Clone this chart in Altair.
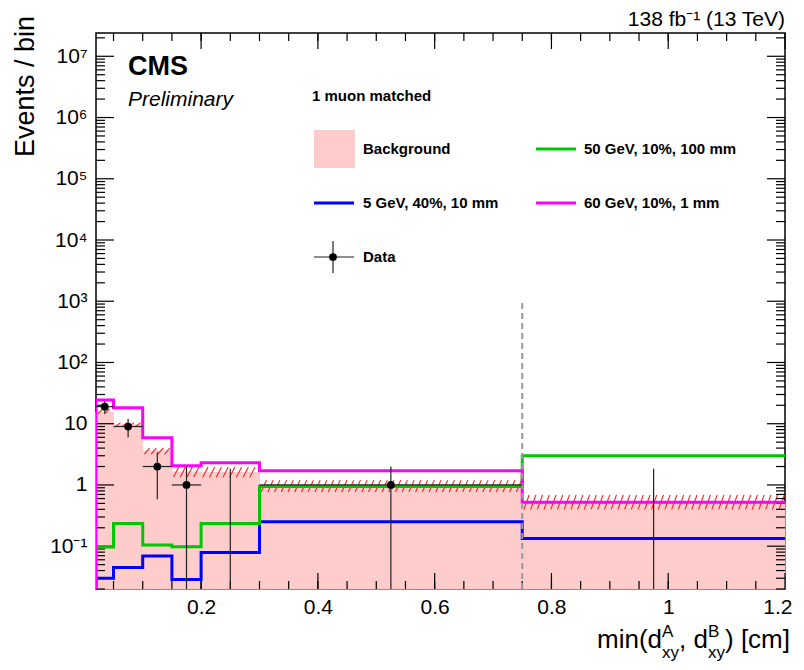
import altair as alt
import pandas as pd

# ---------------- data ----------------
edges = [0.02, 0.05, 0.1, 0.15, 0.2, 0.3, 0.75, 1.2]
bkg = [15.5, 9.6, 3.6, 1.63, 1.6, 0.97, 0.53]
bkg_lo = [14.5, 8.9, 3.2, 1.35, 1.33, 0.77, 0.40]
bkg_hi = [17.5, 10.4, 4.0, 1.97, 1.97, 1.2, 0.69]
sig_5gev = [0.030, 0.045, 0.069, 0.0285, 0.079, 0.25, 0.134]
sig_50gev = [0.097, 0.235, 0.105, 0.098, 0.235, 0.94, 3.0]
sig_60gev = [24.5, 18.3, 5.9, 2.05, 2.3, 1.7, 0.52]
data_counts = [19, 9, 2, 1, 0, 1, 0]
zero_upper = 1.84

x_min, x_max = 0.02, 1.2
y_min, y_max = 0.02, 2.4e7
cut_x, cut_top = 0.75, 1000

x_major = [0.2, 0.4, 0.6, 0.8, 1.0, 1.2]
x_minor = [round(0.05 * i, 2) for i in range(1, 24)]
y_major = [10.0 ** k for k in range(-1, 8)]
y_minor = [m * 10.0 ** k for k in range(-2, 8) for m in range(2, 10)
           if y_min <= m * 10.0 ** k <= y_max]

W, H = 689, 556
FONT = "Liberation Sans"

xs = alt.Scale(domain=[x_min, x_max], nice=False, zero=False)
ys = alt.Scale(type="log", domain=[y_min, y_max], nice=False)

# ---------------- tables ----------------
bins = pd.DataFrame({
    "lo": edges[:-1], "hi": edges[1:], "bkg": bkg,
    "blo": bkg_lo, "bhi": bkg_hi, "y0": [y_min] * 7,
})

hatch_rows = []
step, dx = 0.0115, 0.009
for lo, hi, blo, bhi in zip(edges[:-1], edges[1:], bkg_lo, bkg_hi):
    n = int((hi - lo) / step)
    for j in range(n):
        x0 = lo + (j + 0.25) * step
        x1 = min(x0 + dx, hi)
        hatch_rows.append(dict(x=x0, x2=x1, ylo=blo, yhi=bhi))
hatch_df = pd.DataFrame(hatch_rows)


def step_df(vals):
    xv = [edges[0]] + edges[:-1] + [edges[-1]]
    yv = [y_min] + list(vals) + [vals[-1]]
    return pd.DataFrame({"i": list(range(len(xv))), "x": xv, "y": yv})


centers = [(a + b) / 2 for a, b in zip(edges[:-1], edges[1:])]
err_df = pd.DataFrame({
    "x": centers,
    "lo": [max(n - n ** 0.5, y_min) if n > 0 else y_min for n in data_counts],
    "hi": [n + n ** 0.5 if n > 0 else zero_upper for n in data_counts],
})
pts = pd.DataFrame({"x": centers, "lo": edges[:-1], "hi": edges[1:], "n": data_counts})
pts = pts[pts["n"] > 0]

one = pd.DataFrame({"x": [0.5], "y": [1.0]})
cut_df = pd.DataFrame({"x": [cut_x], "y": [y_min], "y2": [cut_top]})

# ---------------- layers ----------------
fill = alt.Chart(bins).mark_rect(color="#ffcccc", stroke="#ffcccc", strokeWidth=1).encode(
    x=alt.X("lo:Q", scale=xs, axis=None), x2="hi:Q",
    y=alt.Y("bkg:Q", scale=ys, axis=None), y2="y0:Q")

hatch = alt.Chart(hatch_df).mark_rule(color="#ff1a1a", strokeWidth=1.1, clip=True).encode(
    x=alt.X("x:Q", scale=xs, axis=None), x2="x2:Q",
    y=alt.Y("ylo:Q", scale=ys, axis=None), y2="yhi:Q")


def hist_line(vals, color):
    return alt.Chart(step_df(vals)).mark_line(
        interpolate="step-after", strokeWidth=3, color=color, clip=True).encode(
        x=alt.X("x:Q", scale=xs, axis=None),
        y=alt.Y("y:Q", scale=ys, axis=None),
        order=alt.Order("i:Q"))


blue = hist_line(sig_5gev, "#0000ff")
green = hist_line(sig_50gev, "#00c800")
magenta = hist_line(sig_60gev, "#ff00ff")

cut = alt.Chart(cut_df).mark_rule(color="#9a9a9a", strokeWidth=2, strokeDash=[6, 4]).encode(
    x=alt.X("x:Q", scale=xs, axis=None),
    y=alt.Y("y:Q", scale=ys, axis=None), y2="y2:Q")

err_v = alt.Chart(err_df).mark_rule(color="#222222", strokeWidth=1.2, clip=True).encode(
    x=alt.X("x:Q", scale=xs, axis=None),
    y=alt.Y("lo:Q", scale=ys, axis=None), y2="hi:Q")
err_h = alt.Chart(pts).mark_rule(color="#222222", strokeWidth=1.2).encode(
    x=alt.X("lo:Q", scale=xs, axis=None), x2="hi:Q",
    y=alt.Y("n:Q", scale=ys, axis=None))
dots = alt.Chart(pts).mark_point(filled=True, color="black", size=60, opacity=1).encode(
    x=alt.X("x:Q", scale=xs, axis=None),
    y=alt.Y("n:Q", scale=ys, axis=None))

# ---------------- axes: labels via axis, inner ticks via rules ----------------
ylab = ("datum.value < 0.5 ? '10\u207b\u00b9' : (datum.value < 5 ? '1' : (datum.value < 50 ? '10' : "
        "'10' + ['','','','\u00b2','\u00b3','\u2074','\u2075','\u2076','\u2077'][round(log(datum.value)/LN10)+1]))")

ax_labels = alt.Chart(one).mark_point(opacity=0).encode(
    x=alt.X("x:Q", scale=xs, axis=alt.Axis(
        orient="bottom", values=x_major, format="~g", ticks=False, grid=False, title=None,
        labelFontSize=21, labelFont=FONT, labelColor="black", labelPadding=7,
        labelFlush=True, labelFlushOffset=7, labelOverlap=False, domain=False)),
    y=alt.Y("y:Q", scale=ys, axis=alt.Axis(
        orient="left", values=y_major, labelExpr=ylab, ticks=False, grid=False, title=None,
        labelFontSize=21, labelFont=FONT, labelColor="black", labelPadding=9,
        labelOverlap=False, domain=False)))


def xticks(vals, y1, y2):
    return alt.Chart(pd.DataFrame({"v": vals})).mark_rule(color="black", strokeWidth=1.2).encode(
        x=alt.X("v:Q", scale=xs, axis=None), y=alt.value(y1), y2=alt.value(y2))


def yticks(vals, x1, x2):
    return alt.Chart(pd.DataFrame({"v": vals})).mark_rule(color="black", strokeWidth=1.2).encode(
        y=alt.Y("v:Q", scale=ys, axis=None), x=alt.value(x1), x2=alt.value(x2))


ticks = [
    xticks(x_major, H, H - 16), xticks(x_minor, H, H - 8),
    xticks(x_major, 0, 16), xticks(x_minor, 0, 8),
    yticks(y_major, 0, 18), yticks(y_minor, 0, 9),
    yticks(y_major, W, W - 18), yticks(y_minor, W, W - 9),
]

# ---------------- texts & legend ----------------
def txt(text, x, y, size, weight="normal", style="normal", align="left", baseline="middle", angle=0):
    return alt.Chart(one).mark_text(
        text=text, font=FONT, fontSize=size, fontWeight=weight, fontStyle=style,
        align=align, baseline=baseline, angle=angle, color="black").encode(
        x=alt.value(x), y=alt.value(y))


def hrule(x1, x2, y, color, width):
    return alt.Chart(one).mark_rule(color=color, strokeWidth=width).encode(
        x=alt.value(x1), x2=alt.value(x2), y=alt.value(y))


texts = [
    txt("138 fb\u207b\u00b9 (13 TeV)", W, -13, 21, align="right"),
    txt("CMS", 32, 34, 27, weight="bold"),
    txt("Preliminary", 32, 67, 21, style="italic"),
    txt("1 muon matched", 216, 63, 15, weight="bold"),
    txt("Background", 267, 116, 15, weight="bold"),
    txt("50 GeV, 10%, 100 mm", 488, 116, 15, weight="bold"),
    txt("5 GeV, 40%, 10 mm", 267, 170, 15, weight="bold"),
    txt("60 GeV, 10%, 1 mm", 488, 170, 15, weight="bold"),
    txt("Data", 267, 224, 15, weight="bold"),
    txt("Events / bin", -70, -17, 27, align="right", angle=270),
    # x-axis title pieces
    txt(") [cm]", 694, 615, 26, align="right", baseline="alphabetic"),
    txt("xy", 612, 625, 17, baseline="alphabetic"),
    txt("B", 612, 604, 17, baseline="alphabetic"),
    txt(", d", 612, 615, 26, align="right", baseline="alphabetic"),
    txt("xy", 566, 625, 17, baseline="alphabetic"),
    txt("A", 566, 604, 17, baseline="alphabetic"),
    txt("min(d", 566, 615, 26, align="right", baseline="alphabetic"),
]

leg_box = alt.Chart(one).mark_rect(color="#ffcccc").encode(
    x=alt.value(218), x2=alt.value(259), y=alt.value(97), y2=alt.value(135))
leg_lines = [
    hrule(440, 480, 116, "#00c800", 3),
    hrule(218, 258, 170, "#0000ff", 3),
    hrule(440, 480, 170, "#ff00ff", 3),
    hrule(218, 258, 224, "#222222", 1.2),
    alt.Chart(one).mark_rule(color="#222222", strokeWidth=1.2).encode(
        x=alt.value(237), y=alt.value(208), y2=alt.value(240)),
    alt.Chart(one).mark_point(filled=True, color="black", size=60, opacity=1).encode(
        x=alt.value(237), y=alt.value(224)),
]

chart = alt.layer(
    ax_labels, fill, hatch, *ticks, blue, green, magenta, cut, err_v, err_h, dots,
    leg_box, *leg_lines, *texts,
).resolve_axis(x="independent", y="independent").properties(
    width=W, height=H,
    autosize=alt.AutoSizeParams(type="none"),
    padding={"left": 88, "top": 25, "right": 11, "bottom": 73},
    background="white",
).configure_view(stroke="black", strokeWidth=1.5)

chart.save("out.html", embed_options={"renderer": "svg", "actions": False})
